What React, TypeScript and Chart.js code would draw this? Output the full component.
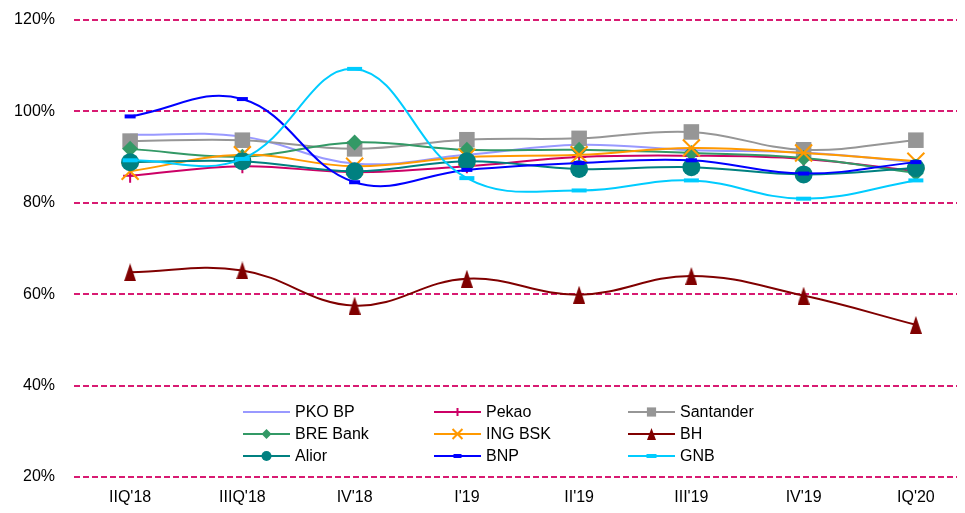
import React, { useEffect, useRef } from 'react';
import { Chart, registerables } from 'chart.js';
import { drawPoint } from 'chart.js/helpers';

Chart.register(...registerables);

const categories = ["IIQ'18", "IIIQ'18", "IV'18", "I'19", "II'19", "III'19", "IV'19", "IQ'20"];
const seriesNames = ['PKO BP', 'Pekao', 'Santander', 'BRE Bank', 'ING BSK', 'BH', 'Alior', 'BNP', 'GNB'];
const pkoBp = [94.9, 94.5, 88.6, 90.5, 92.7, 91.5, 91.0, 88.9];
const pekao = [85.9, 88.0, 86.7, 88.0, 90.0, 90.3, 89.6, 86.9];
const santander = [93.5, 93.7, 91.8, 93.8, 94.1, 95.5, 91.6, 93.7];
const breBank = [91.8, 90.1, 93.2, 91.6, 91.6, 90.9, 89.8, 86.5];
const ingBsk = [86.9, 90.5, 88.0, 90.0, 90.5, 92.0, 90.9, 89.1];
const bh = [64.8, 65.2, 57.5, 63.4, 59.9, 64.0, 59.7, 53.3];
const alior = [88.9, 89.1, 86.9, 89.1, 87.4, 87.8, 86.2, 87.6];
const bnp = [98.9, 102.7, 84.5, 87.2, 88.7, 89.3, 86.4, 88.9];
const gnb = [89.3, 89.6, 109.3, 85.4, 82.7, 84.9, 80.9, 84.9];
const yMin = 20;
const yMax = 120;
const yStep = 20;

const FONT = "Arial, 'Liberation Sans', sans-serif";

function makeTriangle(w: number, h: number, color: string) {
  const c = document.createElement('canvas');
  c.width = w;
  c.height = h;
  const ctx = c.getContext('2d')!;
  ctx.fillStyle = color;
  ctx.beginPath();
  ctx.moveTo(w / 2, 0);
  ctx.lineTo(w, h);
  ctx.lineTo(0, h);
  ctx.closePath();
  ctx.fill();
  return c;
}

const legendPlugin = {
  id: 'gridLegend',
  afterDraw(chart: any) {
    const ctx = chart.ctx as CanvasRenderingContext2D;
    const colX = [235, 426, 620];
    const rowY = [404, 426, 448];
    ctx.save();
    chart.data.datasets.forEach((ds: any, i: number) => {
      const x0 = colX[i % 3];
      const y = rowY[Math.floor(i / 3)];
      ctx.setLineDash([]);
      ctx.strokeStyle = ds.borderColor;
      ctx.lineWidth = 2;
      ctx.beginPath();
      ctx.moveTo(x0, y);
      ctx.lineTo(x0 + 47, y);
      ctx.stroke();
      if (ds.legendStyle) {
        ctx.fillStyle = ds.pointBackgroundColor;
        ctx.strokeStyle = ds.pointBorderColor;
        ctx.lineWidth = ds.legendBorder;
        drawPoint(ctx, { pointStyle: ds.legendStyle, radius: ds.legendRadius, rotation: 0, borderWidth: ds.legendBorder } as any, x0 + 23.5, y);
      }
      ctx.fillStyle = '#000';
      ctx.font = `16px ${FONT}`;
      ctx.textBaseline = 'middle';
      ctx.textAlign = 'left';
      ctx.fillText(ds.label, x0 + 52, y + 1);
    });
    ctx.restore();
  },
};

export default function App() {
  const ref = useRef<HTMLCanvasElement | null>(null);

  useEffect(() => {
    if (!ref.current) return;
    const bhMark = makeTriangle(12, 18, '#800000');
    const bhLegend = makeTriangle(9, 12, '#800000');
    const values = [pkoBp, pekao, santander, breBank, ingBsk, bh, alior, bnp, gnb];
    const styles: any[] = [
      { color: '#9999FF', style: false, r: 0, bw: 0, ls: null, lr: 0, lb: 0 },
      { color: '#CC0066', style: 'cross', r: 7, bw: 2, ls: 'cross', lr: 4, lb: 2 },
      { color: '#969696', style: 'rect', r: 11, bw: 0, ls: 'rect', lr: 6.5, lb: 0 },
      { color: '#339966', style: 'rectRot', r: 8, bw: 0, ls: 'rectRot', lr: 5, lb: 0 },
      { color: '#FF9900', style: 'crossRot', r: 12, bw: 2, ls: 'crossRot', lr: 7, lb: 2 },
      { color: '#800000', style: bhMark, r: 8, bw: 0, ls: bhLegend, lr: 5, lb: 0 },
      { color: '#008080', style: 'circle', r: 9, bw: 0, ls: 'circle', lr: 5, lb: 0 },
      { color: '#0000FF', style: 'line', r: 5.5, bw: 4, ls: 'line', lr: 4, lb: 4 },
      { color: '#00CCFF', style: 'line', r: 7.5, bw: 4, ls: 'line', lr: 5, lb: 4 },
    ];
    const datasets = seriesNames.map((name, i) => {
      const s = styles[i];
      return {
        label: name,
        data: values[i],
        borderColor: s.color,
        backgroundColor: s.color,
        borderWidth: 2,
        tension: 0.4,
        fill: false,
        clip: false,
        pointStyle: s.style,
        pointRadius: s.style ? s.r : 0,
        pointHoverRadius: s.style ? s.r : 0,
        pointBorderWidth: s.bw,
        pointBackgroundColor: s.color,
        pointBorderColor: s.color,
        order: seriesNames.length - i,
        legendStyle: s.ls,
        legendRadius: s.lr,
        legendBorder: s.lb,
      };
    });

    const chart = new Chart(ref.current, {
      type: 'line',
      data: { labels: categories, datasets: datasets as any },
      options: {
        animation: false,
        responsive: false,
        maintainAspectRatio: false,
        devicePixelRatio: 1,
        layout: { autoPadding: false, padding: { top: 12, right: 6, bottom: 0, left: 0 } },
        plugins: {
          legend: { display: false },
          tooltip: { enabled: false },
        },
        scales: {
          x: {
            offset: true,
            grid: { display: false },
            border: { display: false },
            ticks: {
              color: '#000',
              font: { family: FONT, size: 16 },
              padding: 3,
              maxRotation: 0,
              autoSkip: false,
            },
            afterFit: (scale: any) => {
              scale.height = 36;
            },
          },
          y: {
            min: yMin,
            max: yMax,
            grid: { color: '#D81B72', lineWidth: 2, drawTicks: true, tickLength: 19, tickColor: 'rgba(0,0,0,0)' },
            border: { display: false, dash: [6, 3] },
            ticks: {
              stepSize: yStep,
              color: '#000',
              font: { family: FONT, size: 16 },
              padding: 0,
              callback: (v: any) => `${v}%`,
            },
            afterFit: (scale: any) => {
              scale.width = 66;
            },
          },
        },
      },
      plugins: [legendPlugin],
    });
    return () => chart.destroy();
  }, []);

  return (
    <div style={{ width: 957, height: 505, overflow: 'hidden' }}>
      <canvas ref={ref} width={970} height={505} style={{ display: 'block', width: 970, height: 505 }} />
    </div>
  );
}
